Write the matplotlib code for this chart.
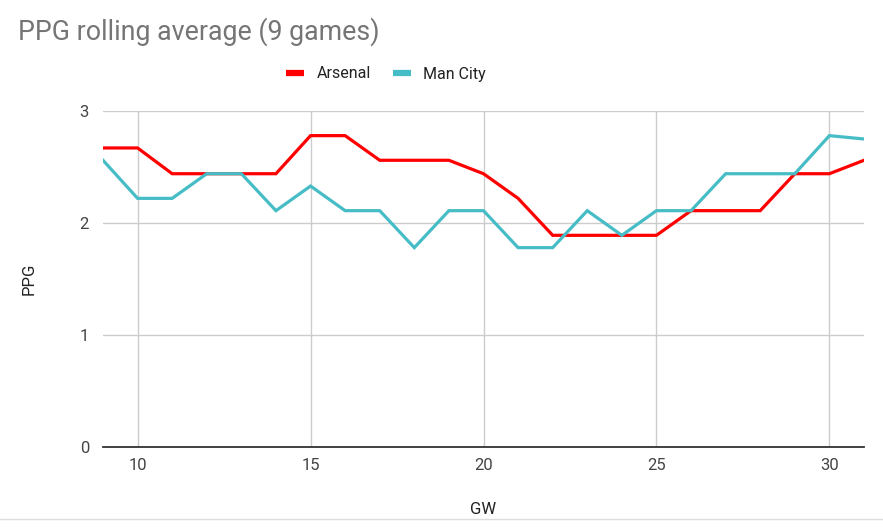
import matplotlib
matplotlib.use("Agg")
import matplotlib.pyplot as plt
from matplotlib.lines import Line2D

gw = list(range(9, 32))
arsenal = [2.67, 2.67, 2.44, 2.44, 2.44, 2.44, 2.78, 2.78, 2.56, 2.56, 2.56, 2.44,
           2.22, 1.89, 1.89, 1.89, 1.89, 2.11, 2.11, 2.11, 2.44, 2.44, 2.56]
mancity = [2.56, 2.22, 2.22, 2.44, 2.44, 2.11, 2.33, 2.11, 2.11, 1.78, 2.11, 2.11,
           1.78, 1.78, 2.11, 1.89, 2.11, 2.11, 2.44, 2.44, 2.44, 2.78, 2.75]
series_names = ["Arsenal", "Man City"]
colors = ["#ff0000", "#46bdc6"]
xticks = [10, 15, 20, 25, 30]
yticks = [0, 1, 2, 3]

plt.rcParams['font.family'] = ['Roboto', 'DejaVu Sans']

fig = plt.figure(figsize=(8.83, 5.27), dpi=100)
ax = fig.add_axes([103/883, 80/527, (864-103)/883, (447-111)/527])

for vals, name, c in zip([arsenal, mancity], series_names, colors):
    ax.plot(gw, vals, color=c, lw=2.3, label=name, solid_joinstyle='miter')

ax.set_xlim(9, 31)
ax.set_ylim(0, 3)
ax.set_xticks(xticks)
ax.set_yticks(yticks)
ax.grid(True, color="#cccccc", lw=1)
ax.set_axisbelow(True)
for s in ["top", "right", "left"]:
    ax.spines[s].set_visible(False)
ax.spines["bottom"].set_color("#333333")
ax.spines["bottom"].set_linewidth(1.3)
ax.tick_params(length=0, labelsize=12, colors="#444444", pad=8)
ax.tick_params(axis='y', pad=10)

ax.set_xlabel("GW", fontsize=12, color="#222222", labelpad=21)
ax.set_ylabel("PPG", fontsize=12, color="#222222", labelpad=31)

fig.text(18/883, 1 - 32/527, "PPG rolling average (9 games)", fontsize=19.3,
         color="#757575", va="center", ha="left")

handles = [Line2D([], [], color=c, lw=4.5, solid_capstyle='butt') for c in colors]
fig.legend(handles, series_names, loc="center", bbox_to_anchor=(386/883, 1 - 74/527),
           ncol=2, frameon=False, fontsize=11.5, handlelength=1.1, handletextpad=0.8,
           columnspacing=1.4, labelcolor="#222222")

fig.add_artist(Line2D([0, 1], [1 - 519/527, 1 - 519/527], color="#dddddd", lw=1))

fig.savefig("out.png", dpi=100)
